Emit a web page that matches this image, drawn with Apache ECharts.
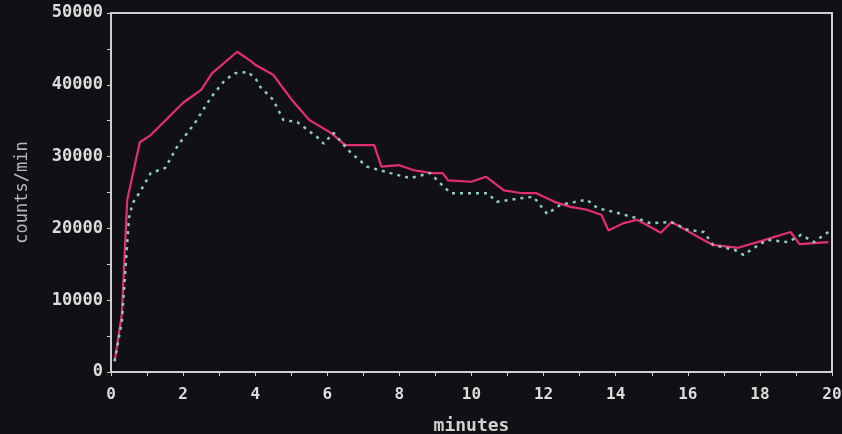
<!DOCTYPE html>
<html><head><meta charset="utf-8">
<script src="https://cdn.jsdelivr.net/npm/echarts@6/dist/echarts.min.js"></script>
<style>html,body{margin:0;padding:0;background:#111014;}#c{width:842px;height:434px;}</style>
</head><body><div id="c"></div>
<script>
const xTicks = [0,2,4,6,8,10,12,14,16,18,20];
const yTicks = [0,10000,20000,30000,40000,50000];
const redT = [0.1,0.3,0.45,0.8,1.1,1.5,2.0,2.5,2.8,3.5,3.85,4.0,4.5,5.0,5.5,6.1,6.5,7.3,7.5,8.0,8.4,8.9,9.2,9.35,10.0,10.4,10.9,11.4,11.8,12.3,12.75,13.2,13.6,13.8,14.2,14.6,15.25,15.55,16.4,16.7,17.4,18.0,18.85,19.1,19.9];
const redV = [1500,8000,24000,32000,33000,35000,37500,39300,41600,44600,43400,42800,41400,38000,35100,33300,31600,31600,28600,28800,28100,27700,27700,26700,26500,27200,25300,24900,24900,23700,23000,22600,21900,19700,20700,21200,19400,20900,18500,17700,17300,18200,19500,17800,18100];
const cyanT = [0.1,0.3,0.5,0.6,0.83,1.1,1.5,1.86,2.33,2.78,3.17,3.44,3.8,4.03,4.14,4.5,4.78,5.17,5.72,5.9,6.17,6.64,7.1,7.75,8.3,8.86,9.05,9.42,10.44,10.7,11.36,11.72,12.1,12.47,13.2,13.5,13.95,14.6,14.97,15.53,16.0,16.45,16.7,17.3,17.55,17.84,18.2,18.78,19.14,19.5,19.9];
const cyanV = [1500,7000,21500,23500,25300,27700,28400,31600,34700,38300,40700,41600,41800,40700,39700,37900,35100,34800,32700,31800,33300,30600,28600,27700,27000,27700,26700,24900,24900,23700,24200,24400,22000,23300,24000,22800,22300,21400,20700,20900,19800,19500,17700,17000,16300,17300,18400,18100,19100,18100,19500];

const chart = echarts.init(document.getElementById('c'));
chart.setOption({
  backgroundColor:'#111014',
  animation:false,
  grid:{left:111, right:10, top:13, bottom:62, outerBoundsMode:'none', containLabel:false, show:true, borderColor:'#cfcfcf', borderWidth:2, backgroundColor:'transparent'},
  xAxis:{type:'value', min:xTicks[0], max:xTicks[xTicks.length-1], interval:2,
    name:'minutes', nameLocation:'middle', nameGap:45,
    nameTextStyle:{color:'#d0d0d0', fontFamily:'DejaVu Sans Mono', fontWeight:'bold', fontSize:18},
    axisLine:{show:true, lineStyle:{color:'#cfcfcf', width:2}},
    axisTick:{show:true, inside:false, length:4, lineStyle:{color:'#cfcfcf', width:1}},
    minorTick:{show:true, splitNumber:2, length:4, lineStyle:{color:'#cfcfcf'}},
    splitLine:{show:false},
    axisLabel:{margin:15, color:'#dcdcdc', fontFamily:'DejaVu Sans Mono', fontWeight:'bold', fontSize:16, formatter:v=>String(v)}},
  yAxis:{type:'value', min:yTicks[0], max:yTicks[yTicks.length-1], interval:10000,
    name:'counts/min', nameLocation:'middle', nameGap:80, nameRotate:90,
    nameTextStyle:{color:'#b8b8b8', fontFamily:'DejaVu Sans Mono', fontSize:17},
    axisLine:{show:true, lineStyle:{color:'#cfcfcf', width:2}},
    axisTick:{show:true, inside:false, length:4, lineStyle:{color:'#cfcfcf'}},
    minorTick:{show:true, splitNumber:2, length:4, lineStyle:{color:'#cfcfcf'}},
    splitLine:{show:false},
    axisLabel:{margin:8, color:'#dcdcdc', fontFamily:'DejaVu Sans Mono', fontWeight:'bold', fontSize:17, formatter:v=>String(v)}},
  series:[
    {type:'line', data:redT.map((t,i)=>[t,redV[i]]), symbol:'none', z:3,
     lineStyle:{color:'#e3306c', width:2.2}},
    {type:'line', data:cyanT.map((t,i)=>[t,cyanV[i]]), symbol:'none', z:4,
     lineStyle:{color:'#8fcac2', width:2.5, type:[3,5]}}
  ]
});
</script></body></html>
